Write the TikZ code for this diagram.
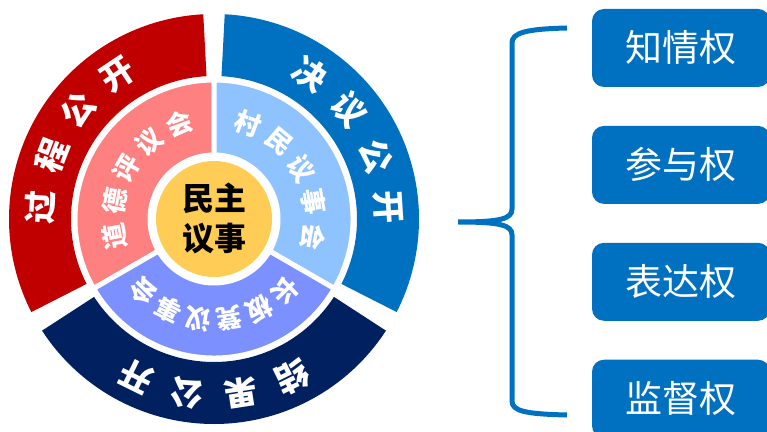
\documentclass[tikz,border=0pt]{standalone}
\usepackage{fontspec}
\newfontfamily\cjk{Noto Sans CJK SC}
\usetikzlibrary{positioning}
\definecolor{guocheng}{RGB}{192,0,0}
\definecolor{jueyi}{RGB}{0,112,192}
\definecolor{jieguo}{RGB}{0,32,96}
\definecolor{daode}{RGB}{255,128,128}
\definecolor{cunmin}{RGB}{143,195,255}
\definecolor{bandeng}{RGB}{124,145,255}
\definecolor{minzhu}{RGB}{255,204,85}
\definecolor{quan}{RGB}{0,112,192}
\tikzset{
  outchar/.style={text=white,inner sep=0pt,font=\cjk\bfseries\fontsize{33}{33}\selectfont},
  inchar/.style={text=white,inner sep=0pt,font=\cjk\bfseries\fontsize{26}{26}\selectfont},
  insector/.style={fill=#1,draw=white,line width=5pt,line join=round},
  quanbox/.style={fill=quan,rounded corners=12pt,minimum width=178pt,minimum height=78pt,
    text=white,font=\cjk\fontsize{37}{37}\selectfont},
  brace/.style={draw=quan,line width=5pt}
}
\newcommand\ringsector[5]{%
  \path[#1] (#2:#5) arc[start angle=#2,end angle=#3,radius=#5] -- (#3:#4)
    arc[start angle=#3,end angle=#2,radius=#4] -- cycle;}
\newcommand\ringtext[6]{%
  \foreach \ch [count=\i] in {#6}{
    \pgfmathsetmacro\ang{#3-(\i-1)*#4}
    \node[#1,rotate=\ang-90] (#5\i) at (\ang:#2) {\ch};}}
\begin{document}
\begin{tikzpicture}[x=1pt,y=1pt]
\useasboundingbox (0,0) rectangle (767,431);
\clip (0,0) rectangle (767,431);
\begin{scope}[shift={(214,212)}]
  \ringsector{fill=guocheng}{93}{207}{143}{205}
  \ringsector{fill=jueyi}{-27}{87}{143}{205}
  \ringsector{fill=jieguo}{213}{327}{143}{205}
  \ringsector{insector=daode}{90}{210}{64}{139}
  \ringsector{insector=cunmin}{-30}{90}{64}{139}
  \ringsector{insector=bandeng}{210}{330}{64}{139}
  \node[circle,fill=minzhu,minimum size=116pt,inner sep=0pt,align=center,
    font=\cjk\bfseries\fontsize{32}{40}\selectfont] (mz) at (0,0) {民主\\议事};
  \ringtext{outchar}{174}{176.25}{17.5}{gc}{过,程,公,开}
  \ringtext{outchar}{174}{56.25}{17.5}{jy}{决,议,公,开}
  \ringtext{outchar}{176}{-63.75}{17.5}{jg}{结,果,公,开}
  \ringtext{inchar}{101}{190}{20}{dd}{道,德,评,议,会}
  \ringtext{inchar}{101}{70}{20}{cm}{村,民,议,事,会}
  \ringtext{inchar}{101}{-45.5}{17.8}{bd}{长,板,凳,议,事,会}
\end{scope}
\node[quanbox] (k1) at (681,383) {知情权};
\node[quanbox,below=38.5pt of k1] (k2) {参与权};
\node[quanbox,below=38.5pt of k2] (k3) {表达权};
\node[quanbox,below=38.5pt of k3] (k4) {监督权};
\coordinate (bt) at (567,403);
\coordinate (bb) at (567,16);
\coordinate (tip) at (458,209);
\draw[brace] (bt) .. controls (525,402) and (512,398) .. (512,388) -- (512,222)
  .. controls (512,212) and (500,209) .. (tip)
  .. controls (500,209) and (512,206) .. (512,196) -- (512,30)
  .. controls (512,20) and (525,17) .. (bb);
\end{tikzpicture}
\end{document}
